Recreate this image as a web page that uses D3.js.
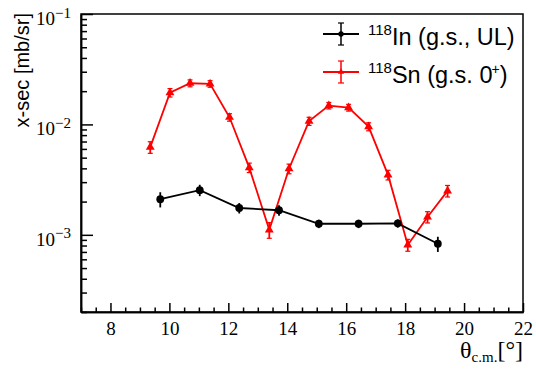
<!DOCTYPE html>
<html>
<head>
<meta charset="utf-8">
<script src="https://cdn.jsdelivr.net/npm/d3@7"></script>
<style>
  html, body { margin: 0; padding: 0; background: #fff; }
  svg { display: block; }
  .serif { font-family: 'Liberation Serif', 'DejaVu Serif', 'Times New Roman', Times, serif; }
  .sans { font-family: 'Liberation Sans', Arial, Helvetica, sans-serif; }
</style>
</head>
<body>
<div id="chart"></div>
<script>
// 118Sn (g.s. 0+) angular distribution
const snTheta = [9.35, 10.02, 10.70, 11.38, 12.04, 12.71, 13.39, 14.06, 14.74, 15.41, 16.08, 16.76, 17.42, 18.09, 18.76, 19.44];
const snXsec = [0.00622, 0.0194, 0.0236, 0.0233, 0.0116, 0.00406, 0.00111, 0.00397, 0.0107, 0.0148, 0.0142, 0.00955, 0.00349, 0.00081, 0.00145, 0.0025];
const snErr = [0.00075, 0.0017, 0.0017, 0.0016, 0.0009, 0.0004, 0.00018, 0.0004, 0.0009, 0.001, 0.001, 0.0008, 0.00035, 0.0001, 0.00017, 0.0003];

// 118In (g.s., UL)
const inTheta = [9.69, 11.03, 12.37, 13.72, 15.07, 16.42, 17.75, 19.11];
const inXsec = [0.00210, 0.00254, 0.00175, 0.00167, 0.00126, 0.00126, 0.00127, 0.00083];
const inErr = [0.00033, 0.00030, 0.00019, 0.00018, 0.00011, 0.00011, 0.00011, 0.00013];

const xDomain = [7, 22];
const yDomain = [2e-4, 0.1];
const xMajor = [8, 10, 12, 14, 16, 18, 20, 22];
const yMajorExp = [-3, -2, -1];

const width = 536, height = 369;
const frame = { left: 81, top: 14, right: 523, bottom: 312 };

const svg = d3.select('#chart').append('svg')
    .attr('width', width)
    .attr('height', height);

const x = d3.scaleLinear().domain(xDomain).range([frame.left, frame.right]);
const y = d3.scaleLog().domain(yDomain).range([frame.bottom, frame.top]);

// Minor ticks
const xMinor = d3.range(7, 22.01, 0.5).filter(v => !xMajor.includes(v));
const yMinor = [];
for (let e = -4; e <= -2; e++) {
    for (let m = 2; m <= 9; m++) {
        const v = m * Math.pow(10, e);
        if (v >= yDomain[0] && v <= yDomain[1]) yMinor.push(v);
    }
}

// X axis
svg.append('g')
    .attr('transform', `translate(0,${frame.bottom})`)
    .call(d3.axisBottom(x).tickValues(xMinor).tickSize(-4.5).tickSizeOuter(0).tickFormat(''));
const xAx = svg.append('g')
    .attr('transform', `translate(0,${frame.bottom})`)
    .call(d3.axisBottom(x).tickValues(xMajor).tickSize(-9).tickSizeOuter(0).tickFormat(d3.format('d')));
xAx.attr('font-family', null).attr('font-size', null);
xAx.selectAll('text')
    .attr('class', 'serif')
    .attr('y', 23)
    .attr('dy', 0)
    .attr('fill', '#000')
    .style('font-size', '19px');

// Y axis
svg.append('g')
    .attr('transform', `translate(${frame.left},0)`)
    .call(d3.axisLeft(y).tickValues(yMinor).tickSize(-6).tickSizeOuter(0).tickFormat(''));
const yAx = svg.append('g')
    .attr('transform', `translate(${frame.left},0)`)
    .call(d3.axisLeft(y).tickValues(yMajorExp.map(e => Math.pow(10, e))).tickSize(-12).tickSizeOuter(0).tickFormat(''));
yAx.attr('font-family', null).attr('font-size', null);
yAx.selectAll('.tick').each(function (d) {
    const t = d3.select(this).append('text')
        .attr('class', 'serif')
        .attr('x', -45)
        .attr('y', 10.5)
        .attr('text-anchor', 'start')
        .attr('fill', '#000')
        .style('font-size', '19px');
    t.append('tspan').text('10');
    t.append('tspan')
        .attr('dy', -7.5)
        .style('font-size', '15px')
        .text('\u2212' + Math.abs(Math.round(Math.log10(d))));
});

svg.selectAll('.domain, .tick line').attr('stroke', '#000').attr('stroke-width', 1.5);

// Frame
svg.append('rect')
    .attr('x', frame.left)
    .attr('y', frame.top)
    .attr('width', frame.right - frame.left)
    .attr('height', frame.bottom - frame.top)
    .attr('fill', 'none')
    .attr('stroke', '#000')
    .attr('stroke-width', 1.5);

// Axis titles
svg.append('text')
    .attr('class', 'sans')
    .attr('transform', `translate(29,${frame.top - 1}) rotate(-90)`)
    .attr('text-anchor', 'end')
    .style('font-size', '20px')
    .text('x-sec [mb/sr]');

const xt = svg.append('text')
    .attr('class', 'serif')
    .attr('x', frame.right)
    .attr('y', 358)
    .attr('text-anchor', 'end')
    .style('font-size', '24px');
xt.append('tspan').text('\u03b8');
xt.append('tspan').attr('dy', 4).style('font-size', '15px').text('c.m.');
xt.append('tspan').attr('dy', -4).text('[\u00b0]');

// Series drawing
function drawSeries(theta, xsec, err, color, shape, capW) {
    const pts = theta.map((t, i) => ({ t, v: xsec[i], e: err[i] }));
    const g = svg.append('g');
    g.append('path')
        .datum(pts)
        .attr('fill', 'none')
        .attr('stroke', color)
        .attr('stroke-width', 1.8)
        .attr('d', d3.line().x(d => x(d.t)).y(d => y(d.v)));
    const eb = g.selectAll('g.eb').data(pts).enter().append('g');
    eb.append('line')
        .attr('x1', d => x(d.t)).attr('x2', d => x(d.t))
        .attr('y1', d => y(d.v - d.e)).attr('y2', d => y(d.v + d.e))
        .attr('stroke', color).attr('stroke-width', 1.8);
    if (capW > 0) {
        eb.append('line')
            .attr('x1', d => x(d.t) - capW / 2).attr('x2', d => x(d.t) + capW / 2)
            .attr('y1', d => y(d.v + d.e)).attr('y2', d => y(d.v + d.e))
            .attr('stroke', color).attr('stroke-width', 1.2);
        eb.append('line')
            .attr('x1', d => x(d.t) - capW / 2).attr('x2', d => x(d.t) + capW / 2)
            .attr('y1', d => y(d.v - d.e)).attr('y2', d => y(d.v - d.e))
            .attr('stroke', color).attr('stroke-width', 1.2);
    }
    g.selectAll('path.m').data(pts).enter().append('path')
        .attr('class', 'm')
        .attr('transform', d => `translate(${x(d.t)},${y(d.v)})`)
        .attr('d', d3.symbol().type(shape).size(shape === d3.symbolCircle ? 48 : 34))
        .attr('fill', color);
}

drawSeries(snTheta, snXsec, snErr, '#ff0000', d3.symbolTriangle, 5);
drawSeries(inTheta, inXsec, inErr, '#000000', d3.symbolCircle, 0);

// Legend
const legend = [
    { color: '#000', shape: d3.symbolCircle, size: 22, iso: '118', name: 'In (g.s., UL)', ly: 34 },
    { color: '#ff0000', shape: d3.symbolTriangle, size: 18, iso: '118', name: 'Sn (g.s. 0', ly: 72, plus: true }
];
legend.forEach(l => {
    const g = svg.append('g');
    g.append('line').attr('x1', 323).attr('x2', 359).attr('y1', l.ly).attr('y2', l.ly)
        .attr('stroke', l.color).attr('stroke-width', 1.8);
    g.append('line').attr('x1', 341).attr('x2', 341).attr('y1', l.ly - 11).attr('y2', l.ly + 11)
        .attr('stroke', l.color).attr('stroke-width', 1.5);
    [-11, 11].forEach(o => g.append('line')
        .attr('x1', 338).attr('x2', 344).attr('y1', l.ly + o).attr('y2', l.ly + o)
        .attr('stroke', l.color).attr('stroke-width', 1.2));
    g.append('path').attr('transform', `translate(341,${l.ly})`)
        .attr('d', d3.symbol().type(l.shape).size(l.size)).attr('fill', l.color);
    const t = g.append('text')
        .attr('class', 'sans')
        .attr('x', 368)
        .attr('y', l.ly + 11)
        .style('font-size', '23.5px');
    t.append('tspan').attr('dy', -10).style('font-size', '15px').text(l.iso);
    t.append('tspan').attr('dy', 10).text(l.name);
    if (l.plus) {
        t.append('tspan').attr('dx', -1).attr('dy', -9).style('font-size', '14px').text('+');
        t.append('tspan').attr('dy', 9).text(')');
    }
});
</script>
</body>
</html>
